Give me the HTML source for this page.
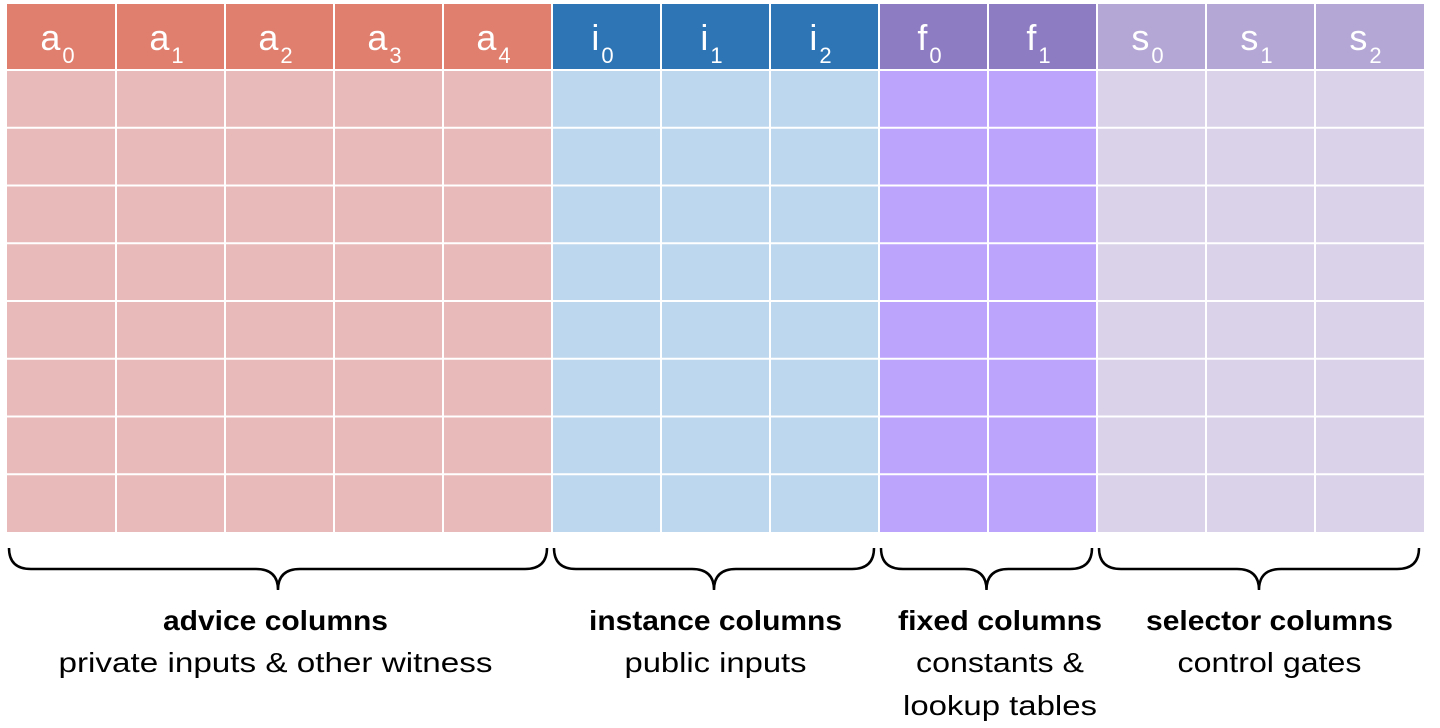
<!DOCTYPE html>
<html><head><meta charset="utf-8"><style>
html,body{margin:0;padding:0;background:#fff;width:1440px;height:728px;overflow:hidden}
svg{display:block}
text{font-family:"Liberation Sans",sans-serif}
</style></head><body>
<svg id="chart" width="1440" height="728" viewBox="0 0 1440 728"></svg>
<script>
const groupNames = ["advice columns","instance columns","fixed columns","selector columns"];
const groupSubtitles = [["private inputs & other witness"],["public inputs"],["constants &","lookup tables"],["control gates"]];
const groupLetters = ["a","i","f","s"];
const groupCounts = [5,3,2,3];
const headerColors = ["#E07F6D","#2E75B6","#8E7CC3","#B4A7D6"];
const bodyColors = ["#E8BABA","#BDD7EE","#BCA3FB","#D9D2E9"];
const rowCount = 8;

// text widths (styling, measured from reference)
const titleW = [225,253,204,247];
const subW = [[434],[182],[168,194],[184]];
const textShift = [-4,0,12,9];

const NS="http://www.w3.org/2000/svg";
const svg=document.getElementById('chart');
const x0=7, colW=109, topY=4, headH=66, bodyBottom=532;
const rowH=(bodyBottom-topY-headH)/rowCount;
function mk(t,a){const e=document.createElementNS(NS,t);for(const k in a)e.setAttribute(k,a[k]);svg.appendChild(e);return e;}
let col=0;
groupCounts.forEach((n,g)=>{
  const gx=x0+col*colW, gw=n*colW;
  for(let c=0;c<n;c++){
    const cx=x0+(col+c)*colW;
    const h=mk('rect',{x:cx,y:topY,width:colW,height:headH,fill:headerColors[g]});
    
    
    const t=mk('text',{x:cx+colW/2-4,y:topY+46,fill:'#fff','font-size':36,'text-anchor':'middle'});
    
    
    t.textContent=groupLetters[g];
    const s=document.createElementNS(NS,'tspan');
    s.setAttribute('font-size','22');s.setAttribute('dy','13');s.setAttribute('dx','2');
    s.textContent=c;t.appendChild(s);
    for(let r=0;r<rowCount;r++){
      const b=mk('rect',{x:cx,y:topY+headH+r*rowH,width:colW,height:rowH,fill:bodyColors[g]});
      
      
    }
  }
  const L=gx+2,R=gx+gw-5,M=(L+R)/2,y1=548,y2=569,y3=590;
  const p=mk('path',{d:`M${L},${y1} Q${L},${y2} ${L+22},${y2} L${M-22},${y2} Q${M},${y2} ${M},${y3} Q${M},${y2} ${M+22},${y2} L${R-22},${y2} Q${R},${y2} ${R},${y1}`,fill:'none',stroke:'#000','stroke-width':2.5});
  
  
  const TX=gx+gw/2+textShift[g];
  const tt=mk('text',{x:TX,y:630,'font-size':28,'font-weight':'bold','text-anchor':'middle',fill:'#000',textLength:titleW[g],lengthAdjust:'spacingAndGlyphs'});
  
  
  tt.textContent=groupNames[g];
  groupSubtitles[g].forEach((line,i)=>{
    const st=mk('text',{x:TX,y:672+i*43,'font-size':28,'text-anchor':'middle',fill:'#000',textLength:subW[g][i],lengthAdjust:'spacingAndGlyphs'});
    
    
    st.textContent=line;
  });
  col+=n;
});
const total=groupCounts.reduce((a,b)=>a+b,0);
for(let c=1;c<total;c++){
  const l=mk('line',{x1:x0+c*colW,x2:x0+c*colW,y1:topY,y2:bodyBottom,stroke:'#fff','stroke-width':2});
  
  
}
for(let r=0;r<rowCount;r++){
  const y=topY+headH+r*rowH;
  const l=mk('line',{x1:x0,x2:x0+total*colW,y1:y,y2:y,stroke:'#fff','stroke-width':2});
  
  
}
</script>
</body></html>
